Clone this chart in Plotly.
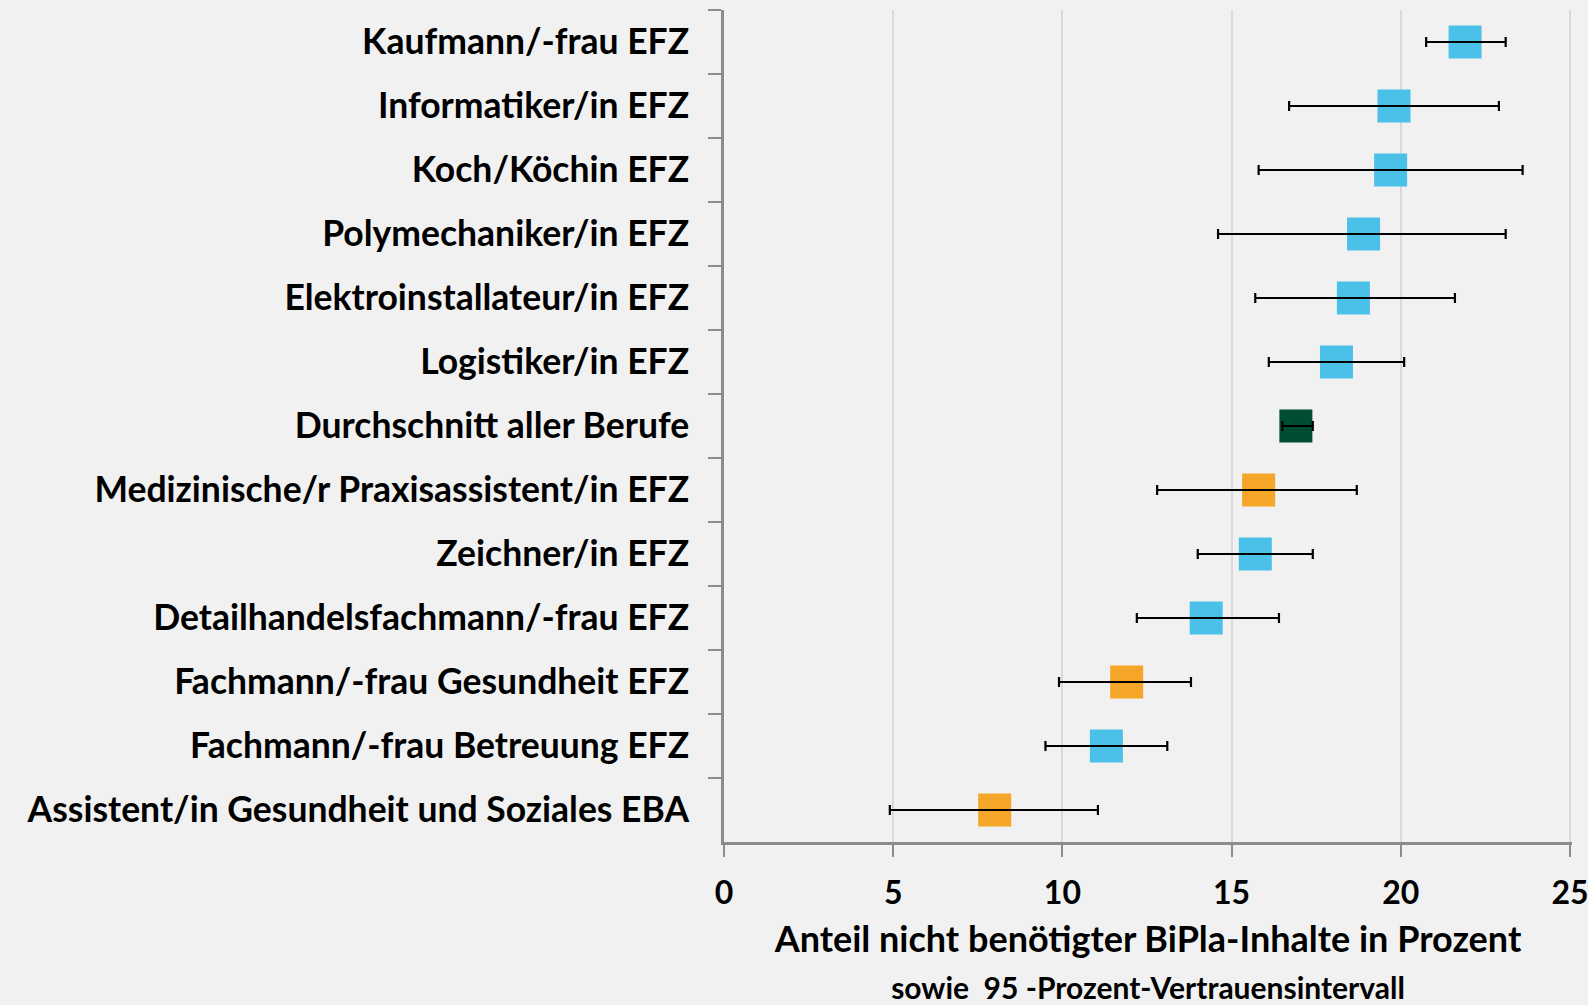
import plotly.graph_objects as go

berufe = [
    "Kaufmann/-frau EFZ",
    "Informatiker/in EFZ",
    "Koch/Köchin EFZ",
    "Polymechaniker/in EFZ",
    "Elektroinstallateur/in EFZ",
    "Logistiker/in EFZ",
    "Durchschnitt aller Berufe",
    "Medizinische/r Praxisassistent/in EFZ",
    "Zeichner/in EFZ",
    "Detailhandelsfachmann/-frau EFZ",
    "Fachmann/-frau Gesundheit EFZ",
    "Fachmann/-frau Betreuung EFZ",
    "Assistent/in Gesundheit und Soziales EBA",
]
anteil = [21.9, 19.8, 19.7, 18.9, 18.6, 18.1, 16.9, 15.8, 15.7, 14.25, 11.9, 11.3, 8.0]
ki_unten = [20.75, 16.7, 15.8, 14.6, 15.7, 16.1, 16.5, 12.8, 14.0, 12.2, 9.9, 9.5, 4.9]
ki_oben = [23.1, 22.9, 23.6, 23.1, 21.6, 20.1, 17.4, 18.7, 17.4, 16.4, 13.8, 13.1, 11.05]
gruppe = ["Beruf", "Beruf", "Beruf", "Beruf", "Beruf", "Beruf", "Durchschnitt",
          "Gesundheit", "Beruf", "Beruf", "Gesundheit", "Beruf", "Gesundheit"]
x_ticks = [0, 5, 10, 15, 20, 25]

farben = {"Beruf": "#4BC0E8", "Durchschnitt": "#004D36", "Gesundheit": "#F5A528"}
FONT = "Lato"
BG = "#F1F1F1"

fig = go.Figure()
fig.add_trace(go.Scatter(
    x=anteil, y=berufe, mode="markers",
    marker=dict(symbol="square", size=33, color=[farben[g] for g in gruppe], line=dict(width=0)),
    hoverinfo="x+y", showlegend=False,
))
fig.add_trace(go.Scatter(
    x=anteil, y=berufe, mode="markers",
    marker=dict(size=1, color="rgba(0,0,0,0)"),
    error_x=dict(type="data", symmetric=False,
                 array=[o - a for o, a in zip(ki_oben, anteil)],
                 arrayminus=[a - u for a, u in zip(anteil, ki_unten)],
                 color="#000000", thickness=2.2, width=5),
    hoverinfo="skip", showlegend=False,
))

fig.update_layout(
    width=1588, height=1005,
    paper_bgcolor=BG, plot_bgcolor=BG,
    margin=dict(l=724, r=16, t=10, b=163),
    font=dict(family=FONT, color="#000000", size=30, weight="bold"),
    xaxis=dict(
        range=[0, 25.06], tickvals=x_ticks, ticktext=[str(v) for v in x_ticks],
        automargin=False,
        showgrid=True, gridcolor="#D9D9D9", gridwidth=2,
        showline=True, linecolor="#8C8C8C", linewidth=2.5,
        ticks="outside", ticklen=12, tickwidth=2, tickcolor="#8C8C8C",
        tickfont=dict(family=FONT, size=32, weight="bold"),
        ticklabelstandoff=9, ticklabeloverflow="allow",
        zeroline=False, fixedrange=True,
        title=dict(
            text="Anteil nicht benötigter BiPla-Inhalte in Prozent<br>"
                 "<span style='font-size:30px'>sowie  95 -Prozent-Vertrauensintervall</span>",
            font=dict(family=FONT, size=36, weight="bold"), standoff=22,
        ),
    ),
    yaxis=dict(
        categoryorder="array", categoryarray=berufe,
        range=[len(berufe) - 0.5, -0.5],
        automargin=False,
        showline=True, linecolor="#8C8C8C", linewidth=2.5,
        ticks="outside", ticklen=13, tickwidth=2, tickcolor="#8C8C8C",
        tickson="boundaries", showgrid=False, zeroline=False,
        tickfont=dict(family=FONT, size=35.5, weight="bold"),
        ticklabelstandoff=25, fixedrange=True,
    ),
)

fig.write_html(
    "out.html",
    config={"displayModeBar": False},
    post_script=f"document.body.style.margin='0';document.body.style.background='{BG}';",
)
